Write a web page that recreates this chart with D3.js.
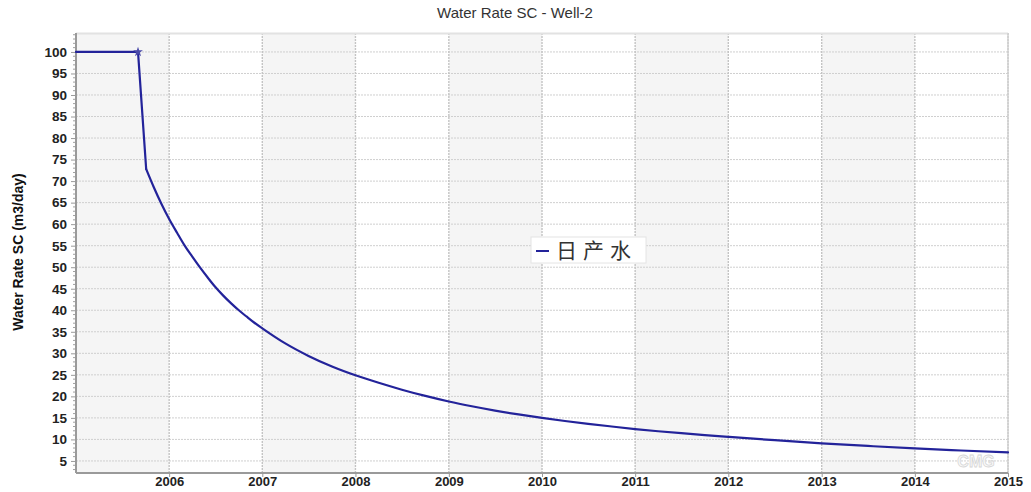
<!DOCTYPE html>
<html>
<head>
<meta charset="utf-8">
<script src="https://cdn.jsdelivr.net/npm/d3@7"></script>
<style>
  html, body { margin: 0; padding: 0; background: #fff; }
  svg { display: block; }
</style>
</head>
<body>
<svg id="chart" width="1031" height="492"></svg>
<script>
// Daily water rate history for Well-2
const dates = [
  "2005-01-01", "2005-09-01", "2005-10-03", "2005-11-01", "2005-12-01",
  "2006-01-01", "2006-02-01", "2006-03-01", "2006-04-01", "2006-05-01",
  "2006-06-01", "2006-07-01", "2006-08-01", "2006-09-01", "2006-10-01",
  "2006-11-01", "2006-12-01", "2007-01-01", "2007-04-01", "2007-07-01",
  "2007-10-01", "2008-01-01", "2008-04-01", "2008-07-01", "2008-10-01",
  "2009-01-01", "2009-04-01", "2009-07-01", "2009-10-01", "2010-01-01",
  "2010-04-01", "2010-07-01", "2010-10-01", "2011-01-01", "2011-04-01",
  "2011-07-01", "2011-10-01", "2012-01-01", "2012-07-01", "2013-01-01",
  "2013-07-01", "2014-01-01", "2014-07-01", "2015-01-01"
];
const waterRate = [
  100, 100, 72.8, 68.7, 64.8,
  61.2, 58.0, 55.2, 52.5, 50.0,
  47.6, 45.4, 43.4, 41.6, 40.0,
  38.5, 37.1, 35.8, 32.3, 29.4,
  26.95, 24.9, 23.15, 21.55, 20.1,
  18.8, 17.7, 16.7, 15.8, 15.0,
  14.28, 13.62, 13.0, 12.4, 11.9,
  11.44, 11.01, 10.6, 9.82, 9.1,
  8.48, 7.9, 7.43, 7.0
];
// Marked point on the series (start of decline)
const markerDate = "2005-09-01";
const markerValue = 100;

// Axis ticks
const yTicks = [5, 10, 15, 20, 25, 30, 35, 40, 45, 50, 55, 60, 65, 70, 75, 80, 85, 90, 95, 100];
const yMinorStep = 1;
const xYears = [2006, 2007, 2008, 2009, 2010, 2011, 2012, 2013, 2014, 2015];
// Shaded alternating year bands (start years)
const bandYears = [2005, 2007, 2009, 2011, 2013];

const title = "Water Rate SC - Well-2";
const yTitle = "Water Rate SC (m3/day)";
const seriesName = "日产水";

const parse = d3.timeParse("%Y-%m-%d");
const series = dates.map((d, i) => ({ date: parse(d), value: waterRate[i] }));

const svg = d3.select("#chart");
const margin = { left: 76, right: 1008, top: 33, bottom: 473 };

const x = d3.scaleTime()
  .domain([new Date(2005, 0, 1), new Date(2015, 0, 1)])
  .range([margin.left, margin.right]);
const y = d3.scaleLinear()
  .domain([2.2, 104.4])
  .range([margin.bottom, margin.top]);

// Alternating year shading
svg.append("g").selectAll("rect")
  .data(bandYears)
  .join("rect")
  .attr("x", d => x(new Date(d, 0, 1)))
  .attr("y", margin.top)
  .attr("width", d => x(new Date(d + 1, 0, 1)) - x(new Date(d, 0, 1)))
  .attr("height", margin.bottom - margin.top)
  .attr("fill", "#f5f5f5");

// Horizontal grid
svg.append("g").selectAll("line")
  .data(yTicks)
  .join("line")
  .attr("x1", margin.left).attr("x2", margin.right)
  .attr("y1", d => y(d)).attr("y2", d => y(d))
  .attr("stroke", "#cfcfcf")
  .attr("stroke-width", 1)
  .attr("stroke-dasharray", "2,1");

// Vertical grid at each year
svg.append("g").selectAll("line")
  .data(xYears)
  .join("line")
  .attr("x1", d => x(new Date(d, 0, 1))).attr("x2", d => x(new Date(d, 0, 1)))
  .attr("y1", margin.top).attr("y2", margin.bottom)
  .attr("stroke", "#c4c4c4")
  .attr("stroke-width", 1.4)
  .attr("stroke-dasharray", "2,1");

// Plot frame (top / right)
svg.append("line")
  .attr("x1", margin.left).attr("x2", margin.right)
  .attr("y1", margin.top + 0.5).attr("y2", margin.top + 0.5)
  .attr("stroke", "#e2e2e2").attr("stroke-width", 2);
svg.append("line")
  .attr("x1", margin.right).attr("x2", margin.right)
  .attr("y1", margin.top).attr("y2", margin.bottom)
  .attr("stroke", "#d0d0d0").attr("stroke-width", 1.4);

// Y axis: minor ticks
const minorVals = d3.range(3, 105, yMinorStep).filter(v => v % 5 !== 0);
svg.append("g").selectAll("line")
  .data(minorVals)
  .join("line")
  .attr("x1", margin.left - 3).attr("x2", margin.left)
  .attr("y1", d => y(d)).attr("y2", d => y(d))
  .attr("stroke", "#a0a0a0").attr("stroke-width", 1);

// Y axis with major ticks and labels
const yAxis = d3.axisLeft(y).tickValues(yTicks).tickSize(5).tickPadding(4).tickSizeOuter(0);
const gy = svg.append("g")
  .attr("transform", `translate(${margin.left},0)`)
  .call(yAxis);
gy.select(".domain").attr("stroke", "#9a9a9a").attr("stroke-width", 2)
  .attr("d", `M0,${margin.top}V${margin.bottom}`);
gy.selectAll(".tick line").attr("stroke", "#9a9a9a");
gy.selectAll(".tick text")
  .attr("font-family", "Liberation Sans, Arial, sans-serif")
  .attr("font-size", 13.5)
  .attr("font-weight", "bold")
  .attr("fill", "#222");

// X axis
const xAxis = d3.axisBottom(x)
  .tickValues(xYears.map(d => new Date(d, 0, 1)))
  .tickFormat(d3.timeFormat("%Y"))
  .tickSize(4).tickPadding(0).tickSizeOuter(0);
const gx = svg.append("g")
  .attr("transform", `translate(0,${margin.bottom})`)
  .call(xAxis);
gx.select(".domain").attr("stroke", "#9a9a9a").attr("stroke-width", 2)
  .attr("d", `M${margin.left},0H${margin.right}`);
gx.selectAll(".tick line").attr("stroke", "#9a9a9a");
gx.selectAll(".tick text")
  .attr("font-family", "Liberation Sans, Arial, sans-serif")
  .attr("font-size", 13)
  .attr("font-weight", "bold")
  .attr("fill", "#222");

// Watermark
svg.append("text")
  .attr("x", 976).attr("y", 467)
  .attr("text-anchor", "middle")
  .attr("font-family", "Liberation Sans, Arial, sans-serif")
  .attr("font-size", 16)
  .attr("font-weight", "bold")
  .attr("fill", "#fafafa")
  .attr("stroke", "#d6d6d6")
  .attr("stroke-width", 0.8)
  .text("CMG");

// Series line: flat period and shut-in drop drawn straight, decline drawn smooth
const lineStraight = d3.line()
  .x(d => x(d.date))
  .y(d => y(d.value));
const lineSmooth = d3.line()
  .x(d => x(d.date))
  .y(d => y(d.value))
  .curve(d3.curveMonotoneX);
const seriesG = svg.append("g")
  .attr("fill", "none")
  .attr("stroke", "#23239a")
  .attr("stroke-width", 2.2)
  .attr("stroke-linejoin", "round")
  .attr("stroke-linecap", "round");
seriesG.append("path").datum(series.slice(0, 3)).attr("d", lineStraight);
seriesG.append("path").datum(series.slice(2)).attr("d", lineSmooth);

// Marker
svg.append("path")
  .attr("transform", `translate(${x(parse(markerDate))},${y(markerValue)})`)
  .attr("d", d3.symbol().type(d3.symbolStar).size(30)())
  .attr("fill", "#4a4aa8");

// Title
svg.append("text")
  .attr("x", 515).attr("y", 18)
  .attr("text-anchor", "middle")
  .attr("font-family", "Liberation Sans, Arial, sans-serif")
  .attr("font-size", 15)
  .attr("fill", "#333")
  .text(title);

// Y axis title
svg.append("text")
  .attr("transform", "translate(23,252) rotate(-90)")
  .attr("text-anchor", "middle")
  .attr("font-family", "Liberation Sans Narrow, Arial Narrow, sans-serif")
  .attr("font-size", 14)
  .attr("font-weight", "bold")
  .attr("fill", "#111")
  .text(yTitle);

// Legend
const legend = svg.append("g").attr("transform", "translate(531,237)");
legend.append("rect")
  .attr("width", 115).attr("height", 26)
  .attr("fill", "#fff")
  .attr("stroke", "#e4e4e4");
legend.append("line")
  .attr("x1", 5).attr("x2", 18).attr("y1", 14).attr("y2", 14)
  .attr("stroke", "#23239a").attr("stroke-width", 2);
legend.append("text")
  .attr("x", 25).attr("y", 21)
  .attr("font-family", "Noto Sans CJK SC, sans-serif")
  .attr("font-size", 21)
  .attr("letter-spacing", 6)
  .attr("fill", "#333")
  .text(seriesName);
</script>
</body>
</html>
